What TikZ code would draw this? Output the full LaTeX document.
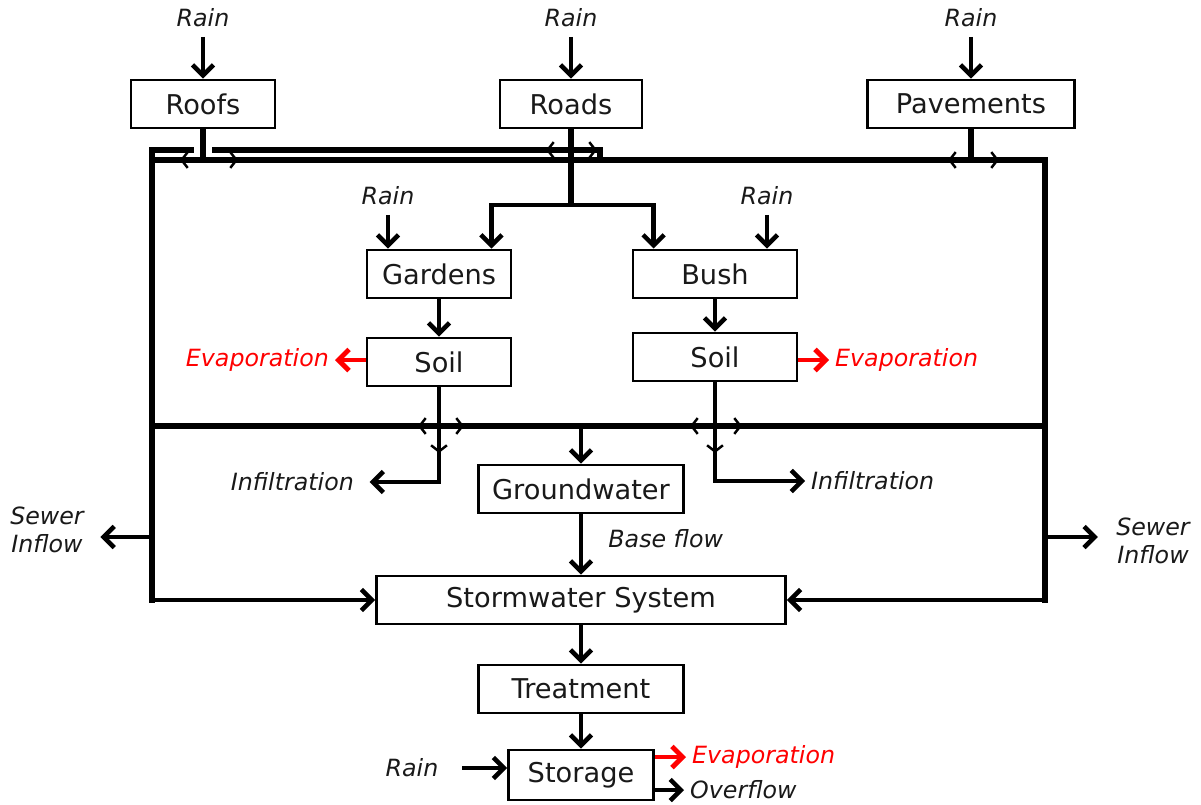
\documentclass[tikz,border=0pt]{standalone}
\usepackage{fontspec}
\setmainfont{DejaVu Sans}
\usetikzlibrary{arrows.meta,positioning,calc}

\begin{document}
\begin{tikzpicture}[
    x=0.02cm, y=-0.02cm,
    box/.style={rectangle, draw, line width=1.6pt, fill=white, minimum height=0.96cm, inner sep=0pt, align=center, text=black!90, font=\fontsize{15.5}{17}\selectfont},
    lbl/.style={font=\fontsize{13.5}{16}\selectfont\itshape, text=black!90, align=center},
    evap/.style={lbl, text=red},
    arrow/.style={-{Straight Barb[length=6pt,width=12pt]}, line width=2.6pt},
    evaparrow/.style={arrow, red, line width=2.8pt},
    bus/.style={line width=3.6pt, line cap=rect},
    tick/.style={{Straight Barb[length=3.5pt,width=9pt]}-{Straight Barb[length=3.5pt,width=9pt]}, line width=1.4pt},
    tickdown/.style={-{Straight Barb[length=3.5pt,width=9pt]}, line width=1.4pt}
]
\useasboundingbox (0,0) rectangle (1201,805);

% Impervious surfaces
\node[box, minimum width=2.88cm] (roofs) at (203,104) {Roofs};
\node[box, minimum width=2.84cm] (roads) at (571,104) {Roads};
\node[box, minimum width=4.14cm] (pavements) at (971,104) {Pavements};

% Rain on surfaces
\node[lbl] (rainRoofs) at (203,18) {Rain};
\node[lbl] (rainRoads) at (571,18) {Rain};
\node[lbl] (rainPave) at (971,18) {Rain};
\draw[arrow, shorten <=2pt] (rainRoofs) -- (roofs);
\draw[arrow, shorten <=2pt] (rainRoads) -- (roads);
\draw[arrow, shorten <=2pt] (rainPave) -- (pavements);

% Pervious areas and soils
\node[box, minimum width=2.88cm] (gardens) at (439,274) {Gardens};
\node[box, minimum width=3.28cm] (bush) at (715,274) {Bush};
\node[box, minimum width=2.88cm] (soilL) at (439,362) {Soil};
\node[box, minimum width=3.28cm] (soilR) at (715,357) {Soil};

\node[lbl] (rainGardens) at (388,196) {Rain};
\node[lbl] (rainBush) at (767,196) {Rain};
\draw[arrow, shorten <=2pt] (rainGardens) -- (rainGardens |- gardens.north);
\draw[arrow, shorten <=2pt] (rainBush) -- (rainBush |- bush.north);
\draw[arrow] (gardens) -- (soilL);
\draw[arrow] (bush) -- (soilR);

% Bus lines
\coordinate (topL) at (152,150);
\coordinate (topM) at (600,150);
\coordinate (busL) at (152,160);
\coordinate (busR) at (1045,160);
\coordinate (midL) at (152,426);
\coordinate (midR) at (1045,426);
\coordinate (botL) at (152,600);
\coordinate (botR) at (1045,600);
\coordinate (split) at (571,205);

\draw[bus] (topM |- busL) -- (topM) -- (215,150);
\draw[bus] (191,150) -- (topL) -- (botL);
\draw[bus] (busL) -- (busR) -- (botR);
\draw[bus] (midL) -- (midR);

% Surface runoff onto the bus
\draw[bus, line cap=butt] (roofs.south) -- (roofs.south |- busL);
\draw[bus, line cap=butt] (pavements.south) -- (pavements.south |- busL);
\draw[bus, line cap=butt] (roads.south) -- (split);
\draw[arrow] (split) -| ([xshift=-0.42cm]gardens.north east);
\draw[arrow] (split) -| ([xshift=0.44cm]bush.north west);

\draw[tick] ($(roofs.south |- busL)+(-23,0)$) -- ($(roofs.south |- busL)+(35,0)$);
\draw[tick] ($(roads.south |- topL)+(-25,0)$) -- ($(roads.south |- topL)+(26,0)$);
\draw[tick] ($(pavements.south |- busL)+(-23,0)$) -- ($(pavements.south |- busL)+(28,0)$);

% Evaporation from soils
\node[evap, anchor=east] (evapL) at (335,360) {Evaporation};
\node[evap, anchor=west] (evapR) at (829,360) {Evaporation};
\draw[evaparrow] (soilL.west |- evapL) -- (evapL.east);
\draw[evaparrow] (soilR.east |- evapR) -- (evapR.west);

% Infiltration
\node[lbl, anchor=east] (infL) at (360,482) {Infiltration};
\node[lbl, anchor=west] (infR) at (805,481) {Infiltration};
\draw[arrow, shorten >=5.5pt] (soilL.south) |- (infL.east);
\draw[arrow] (soilR.south) |- (infR.west);

\draw[tick] ($(soilL.south |- midL)+(-21,0)$) -- ($(soilL.south |- midL)+(25,0)$);
\draw[tick] ($(soilR.south |- midL)+(-25,0)$) -- ($(soilR.south |- midL)+(27,0)$);
\draw[tickdown] ($(soilL.south |- midL)+(0,6)$) -- ($(soilL.south |- midL)+(0,27)$);
\draw[tickdown] ($(soilR.south |- midL)+(0,6)$) -- ($(soilR.south |- midL)+(0,27)$);

% Groundwater and stormwater system
\node[box, minimum width=4.1cm] (groundwater) at (581,489) {Groundwater};
\node[box, minimum width=8.18cm] (storm) at (581,600) {Stormwater System};
\draw[arrow] (groundwater.north |- midL) -- (groundwater.north);
\draw[arrow] (groundwater) -- node[lbl, pos=0.4, right=11pt] (baseLbl) {Base flow} (storm);
\draw[arrow] (botL) -- (storm.west);
\draw[arrow] (botR) -- (storm.east);

% Sewer inflow
\coordinate (sewerL) at (152,537);
\coordinate (sewerR) at (1045,537);
\node[lbl] (sewerInL) at (47,530) {Sewer\\Inflow};
\node[lbl] (sewerInR) at (1153,541) {Sewer\\Inflow};
\draw[arrow, shorten >=6pt] (sewerL) -- (sewerL -| sewerInL.east);
\draw[arrow, shorten >=7pt] (sewerR) -- (sewerR -| sewerInR.west);

% Treatment and storage
\node[box, minimum width=4.1cm] (treatment) at (581,689) {Treatment};
\node[box, minimum width=2.9cm, minimum height=1.0cm] (storage) at (581,775) {Storage};
\draw[arrow] (storm) -- (treatment);
\draw[arrow] (treatment) -- (storage);

\node[lbl] (rainStorage) at (412,768) {Rain};
\draw[arrow, shorten <=10pt] (rainStorage) -- (rainStorage -| storage.west);

\node[evap, anchor=west] (evapS) at (686,757) {Evaporation};
\node[lbl, anchor=west] (overflow) at (684,790) {Overflow};
\draw[evaparrow] (storage.east |- evapS) -- (evapS.west);
\draw[arrow] (storage.east |- overflow) -- (overflow.west);

\end{tikzpicture}
\end{document}
